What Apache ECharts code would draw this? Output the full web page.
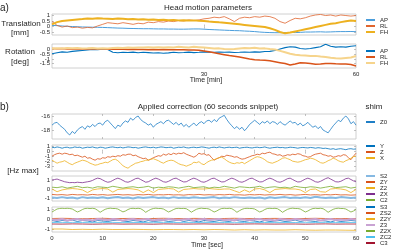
<!DOCTYPE html>
<html>
<head>
<meta charset="utf-8">
<script src="https://cdn.jsdelivr.net/npm/echarts@6/dist/echarts.min.js"></script>
<style>
  html, body { margin: 0; padding: 0; background: #fff; }
  #chart { width: 400px; height: 249px; }
</style>
</head>
<body>
<div id="chart"></div>
<script>
// a) head motion, one value per minute (0..60 min)
const transAP = [0.10,0.08,0.05,0.02,0.0,-0.02,-0.04,-0.05,-0.06,-0.07,-0.08,-0.1,-0.12,-0.14,-0.15,-0.17,-0.18,-0.19,-0.2,-0.2,-0.21,-0.22,-0.22,-0.23,-0.23,-0.24,-0.24,-0.23,-0.22,-0.22,-0.24,-0.27,-0.29,-0.31,-0.33,-0.35,-0.37,-0.38,-0.41,-0.43,-0.46,-0.5,-0.53,-0.55,-0.56,-0.56,-0.55,-0.54,-0.55,-0.53,-0.5,-0.5,-0.49,-0.48,-0.5,-0.49,-0.47,-0.46,-0.46,-0.45,-0.47];
const transRL = [0.45,0.1,-0.05,0.05,-0.1,-0.05,-0.15,-0.08,-0.12,0.05,0.2,0.35,0.3,0.25,0.35,0.28,0.2,0.3,0.25,0.4,0.35,0.45,0.4,0.5,0.45,0.55,0.5,0.6,0.55,0.6,0.7,0.75,0.85,0.8,0.9,0.7,0.45,0.75,0.85,0.8,0.9,0.85,0.95,0.9,0.75,0.45,0.3,0.55,0.75,0.7,0.8,0.95,1.05,1.1,1.0,1.05,0.95,1.05,1.0,0.95,1.0];
const transFH = [0.2,0.4,0.5,0.55,0.6,0.65,0.68,0.72,0.7,0.75,0.72,0.7,0.68,0.72,0.7,0.66,0.68,0.65,0.66,0.62,0.64,0.6,0.62,0.58,0.6,0.56,0.58,0.55,0.56,0.52,0.5,0.45,0.42,0.38,0.35,0.3,0.25,0.2,0.15,0.1,0.05,0.0,-0.05,-0.15,-0.3,-0.5,-0.62,-0.55,-0.45,-0.35,-0.25,-0.15,-0.05,0.05,0.15,0.25,0.3,0.4,0.48,0.55,0.5];
const rotAP = [-0.45,-0.35,-0.25,-0.3,-0.2,-0.15,-0.1,-0.05,0.0,-0.02,0.02,0.0,-0.3,-0.35,-0.3,-0.32,-0.28,-0.35,-0.3,-0.33,-0.38,-0.35,-0.4,-0.36,-0.3,-0.35,-0.32,-0.28,-0.33,-0.3,-0.25,-0.28,-0.3,-0.26,-0.3,-0.28,-0.32,-0.3,-0.27,-0.3,-0.25,-0.28,-0.22,-0.2,-0.1,0.05,0.2,0.3,0.25,0.1,0.05,0.1,0.2,0.3,0.55,0.35,0.25,0.3,0.25,0.35,0.4];
const rotRL = [0.1,0.08,0.1,0.06,0.08,0.05,0.07,0.05,0.06,0.04,0.05,0.03,0.04,0.02,0.03,0.0,0.02,0.0,0.01,-0.02,0.0,-0.02,-0.01,-0.03,-0.02,-0.04,-0.03,-0.05,-0.05,-0.08,-0.15,-0.25,-0.35,-0.45,-0.55,-0.65,-0.72,-0.8,-0.9,-1.0,-1.08,-1.12,-1.15,-1.2,-1.3,-1.4,-1.5,-1.65,-1.55,-1.42,-1.45,-1.5,-1.58,-1.55,-1.5,-1.48,-1.52,-1.55,-1.55,-1.6,-1.75];
const rotFH = [0.1,0.12,0.1,0.15,0.12,0.15,0.1,0.12,0.15,0.1,0.12,0.1,0.15,0.18,0.15,0.2,0.18,0.22,0.2,0.25,0.22,0.25,0.2,0.25,0.22,0.28,0.25,0.22,0.28,0.25,0.2,0.15,0.1,0.12,0.05,0.02,0.05,0.1,0.15,0.12,0.18,0.1,0.12,0.05,0.0,-0.15,-0.3,-0.45,-0.55,-0.62,-0.65,-0.7,-0.68,-0.75,-0.8,-0.88,-0.92,-0.95,-0.9,-0.85,-0.7];

// b) applied shim correction over 60 s
const shimZ0 = [-17.3,-17.0,-16.9,-17.3,-17.6,-17.9,-18.4,-18.7,-18.2,-18.5,-18.0,-17.7,-17.5,-17.9,-17.4,-17.6,-17.2,-17.5,-17.1,-17.0,-17.3,-16.8,-16.6,-17.0,-17.4,-17.8,-17.3,-17.5,-17.0,-16.7,-16.9,-16.3,-16.6,-16.2,-16.0,-16.5,-16.8,-17.0,-17.3,-17.1,-17.6,-17.2,-17.0,-16.8,-17.1,-16.7,-16.6,-16.9,-17.2,-16.9,-17.3,-17.0,-17.5,-17.2,-17.6,-17.3,-17.0,-17.4,-17.0,-16.8,-17.1,-16.7,-16.6,-16.9,-16.5,-16.8,-16.3,-16.1,-15.9,-16.5,-17.0,-17.4,-17.8,-17.5,-17.9,-17.6,-18.1,-17.7,-17.2,-16.9,-16.6,-16.9,-17.2,-16.8,-17.0,-16.7,-17.1,-16.8,-16.9,-17.2,-16.8,-17.1,-17.3,-17.0,-16.7,-17.0,-16.9,-17.3,-17.0,-17.4,-17.2,-16.9,-17.3,-17.6,-17.4,-17.8,-17.5,-18.0,-18.2,-18.4,-17.9,-17.4,-17.0,-16.6,-16.8,-16.3,-16.0,-16.4,-17.1,-16.8,-17.3];
const shimY = [0.9,0.8,0.95,0.85,0.7,0.85,0.9,0.75,0.8,0.95,0.85,0.9,0.7,0.8,0.9,0.85,0.95,0.8,0.75,0.9,0.85,0.7,0.8,0.9,0.95,0.85,0.8,0.9,0.75,0.85,0.95,0.9,0.8,0.85,0.7,0.8,0.9,0.95,0.85,0.8,0.9,0.75,0.85,0.95,0.9,0.8,0.85,0.9,0.7,0.8,0.9,0.85,0.95,0.8,0.75,0.85,0.9,0.8,0.85,0.95,0.9,0.8,0.7,0.85,0.9,0.8,0.95,0.85,0.75,0.85,0.9,0.8,0.85,0.9,0.7,0.8,0.85,0.9,0.8,0.75,0.85,0.9,0.8,0.85,0.95,0.8,0.7,0.8,0.85,0.9,0.8,0.85,0.75,0.8,0.9,0.85,0.8,0.7,0.8,0.85,0.8,0.75,0.85,0.8,0.7,0.8,0.75,0.65,0.7,0.6,0.5,0.6,0.45,0.55,0.6,0.5,0.4,0.55,0.6,0.5,0.55];
const shimZ = [-0.9,-0.6,-0.4,-0.3,-0.5,-0.3,-0.4,-0.6,-0.5,-0.8,-0.7,-0.9,-1.1,-0.9,-1.3,-1.2,-1.5,-1.7,-1.4,-1.5,-1.2,-1.3,-1.0,-1.1,-0.9,-1.0,-0.8,-0.9,-0.6,-0.7,-0.5,-0.5,-0.8,-0.7,-1.0,-1.2,-1.4,-1.3,-1.7,-1.5,-1.2,-1.0,-0.8,-0.9,-0.5,-0.7,-0.4,-0.6,-0.3,-0.5,-0.3,-0.4,-0.2,-0.5,-0.7,-0.9,-1.1,-0.8,-0.3,-0.5,-0.4,-0.7,-0.6,-1.2,-1.7,-1.4,-1.2,-0.9,-1.0,-0.7,-0.8,-0.9,-1.1,-1.0,-1.3,-1.5,-1.4,-1.2,-1.0,-0.8,-0.7,-0.5,-0.6,-0.3,-0.4,-0.2,-0.1,-0.4,-0.5,-0.7,-0.6,-0.9,-0.8,-0.6,-0.7,-0.5,-0.6,-0.4,-0.5,-0.8,-0.9,-1.1,-1.0,-0.7,-0.5,-0.4,-0.3,-0.6,-0.7,-0.9,-0.8,-1.1,-1.0,-0.8,-0.9,-0.6,-0.7,-1.2,-1.6,-0.9,-0.3];
const shimX = [-1.7,-2.0,-2.3,-2.1,-2.0,-1.8,-2.1,-2.4,-2.6,-2.3,-2.1,-1.9,-1.7,-1.8,-2.0,-2.3,-2.5,-2.7,-2.6,-2.4,-2.3,-2.1,-2.2,-1.9,-1.6,-1.5,-1.8,-2.3,-2.8,-3.1,-3.3,-2.9,-2.6,-2.3,-2.2,-2.0,-1.9,-1.7,-1.7,-1.5,-1.4,-1.6,-1.8,-2.1,-2.3,-2.0,-1.8,-1.7,-1.8,-2.1,-2.4,-2.6,-2.7,-2.9,-2.7,-2.5,-2.1,-2.2,-2.0,-2.4,-2.6,-2.2,-1.9,-1.7,-1.6,-1.4,-1.2,-1.1,-1.4,-1.8,-2.1,-2.3,-2.4,-2.2,-2.3,-2.1,-2.4,-2.1,-1.8,-1.5,-1.2,-1.0,-1.1,-1.3,-1.6,-2.0,-2.2,-2.3,-2.1,-1.9,-1.6,-1.3,-1.2,-1.4,-1.6,-1.9,-2.0,-2.1,-2.0,-1.8,-1.6,-1.5,-1.3,-1.4,-1.6,-1.9,-2.2,-2.3,-2.1,-1.8,-1.6,-1.3,-1.5,-1.8,-2.0,-2.1,-1.8,-1.6,-1.3,-1.0,-0.9];
const shimS2 = [-0.95,-1.0,-0.9,-1.0,-0.95,-1.05,-0.9,-1.0,-0.95,-1.0,-0.92,-1.02,-0.95,-0.88,-1.0,-0.95,-1.05,-0.92,-1.0,-0.95,-0.9,-1.0,-0.95,-1.03,-0.9,-1.0,-0.95,-1.0,-0.92,-0.98,-1.0,-0.95,-0.9,-1.02,-0.95,-1.0,-0.9,-0.98,-1.0,-0.93,-1.0,-0.95,-1.05,-0.92,-1.0,-0.95,-0.9,-1.0,-0.95,-1.0,-0.92,-1.0,-0.85,-0.95,-1.0,-0.93,-1.0,-0.9,-0.95,-1.0,-0.95];
const shimZY = [-0.6,-0.65,-0.62,-0.68,-0.6,-0.65,-0.63,-0.67,-0.6,-0.66,-0.62,-0.68,-0.64,-0.6,-0.66,-0.63,-0.68,-0.62,-0.65,-0.6,-0.67,-0.63,-0.65,-0.61,-0.66,-0.64,-0.68,-0.62,-0.65,-0.6,-0.66,-0.63,-0.67,-0.62,-0.65,-0.6,-0.66,-0.64,-0.68,-0.62,-0.65,-0.61,-0.67,-0.63,-0.65,-0.6,-0.66,-0.62,-0.68,-0.64,-0.6,-0.66,-0.63,-0.67,-0.62,-0.65,-0.6,-0.66,-0.64,-0.68,-0.65];
const shimZ2 = [0.0,-0.3,-0.1,0.0,0.05,0.0,-0.1,-0.4,-0.1,0.0,0.05,0.0,-0.35,-0.05,0.0,0.05,0.0,-0.1,-0.4,-0.1,-0.4,-0.05,0.0,0.05,0.0,-0.35,-0.05,0.0,0.05,0.0,0.0,0.05,0.0,-0.05,0.0,0.0,-0.2,-0.4,-0.1,-0.35,0.0,0.05,-0.1,-0.4,-0.05,0.0,0.05,0.0,0.0,-0.1,-0.4,-0.05,0.0,-0.3,-0.35,0.0,0.05,0.0,-0.1,-0.4,-0.05];
const shimZX = [1.0,1.05,1.1,1.0,0.9,0.8,0.75,0.7,0.72,0.7,0.75,0.72,0.7,0.75,0.8,0.85,0.95,1.1,1.2,1.15,1.0,0.85,0.75,0.8,0.95,1.1,1.2,1.1,0.95,0.8,0.75,0.85,1.0,1.15,1.2,1.05,0.9,0.75,0.8,0.95,1.1,1.2,1.1,0.95,0.8,0.75,0.85,1.0,1.15,1.2,1.05,0.9,0.78,0.8,0.95,1.1,1.2,1.1,0.95,0.8,0.75,0.85,1.0,1.15,1.2,1.05,0.9,0.78,0.8,0.95,1.1,1.2,1.1,0.95,0.8,0.75,0.85,1.0,1.15,1.2,1.05,0.9,0.78,0.8,0.95,1.1,1.2,1.1,0.95,0.8,0.75,0.85,1.0,1.15,1.2,1.05,0.9,0.78,0.8,0.95,1.1,1.2,1.1,0.95,0.8,0.75,0.85,1.0,1.15,1.25,1.1,0.95,0.8,0.78,0.85,1.0,1.15,1.2,1.05,0.9,0.8];
const shimC2 = [0.2,0.15,0.25,0.1,0.2,0.3,0.15,0.2,0.1,0.25,0.2,0.15,0.3,0.2,0.1,0.2,0.25,0.15,0.2,0.3,0.1,0.2,0.15,0.25,0.2,0.1,0.2,0.3,0.15,0.2,0.25,0.1,0.2,0.15,0.3,0.2,0.1,0.25,0.2,0.15,0.2,0.3,0.1,0.2,0.25,0.15,0.2,0.1,0.3,0.2,0.15,0.25,0.2,0.1,0.2,0.3,0.15,0.2,0.25,0.1,0.2];
const shimS3 = [-0.1,-0.2,-0.1,-0.15,-0.05,-0.2,-0.1,-0.15,-0.25,-0.1,-0.15,-0.2,-0.1,-0.05,-0.15,-0.2,-0.1,-0.15,-0.25,-0.1,-0.2,-0.15,-0.1,-0.2,-0.15,-0.05,-0.2,-0.1,-0.15,-0.25,-0.1,-0.15,-0.2,-0.1,-0.15,-0.2,-0.05,-0.15,-0.2,-0.1,-0.15,-0.25,-0.1,-0.2,-0.15,-0.1,-0.2,-0.15,-0.05,-0.2,-0.1,-0.15,-0.2,-0.1,-0.15,-0.25,-0.1,-0.2,-0.15,-0.1,-0.15];
const shimZS2 = [0.1,0.12,0.1,0.08,0.1,0.12,0.09,0.1,0.11,0.08,0.1,0.12,0.1,0.09,0.11,0.1,0.08,0.1,0.12,0.1,0.09,0.1,0.11,0.1,0.08,0.1,0.12,0.1,0.09,0.1,0.1];
const shimZ2Y = [-0.95,-0.95,-1.0,-0.98,-1.0,-0.97,-1.0,-1.0,-0.98,-1.0,-1.02,-1.0,-1.0,-1.02,-1.0,-1.03,-1.0,-1.02,-1.05,-1.02,-1.05,-1.03,-1.05,-1.05,-1.02,-1.05,-1.07,-1.05,-1.05,-1.07,-1.08];
const shimZ3 = [0.0,-0.05,0.05,-0.1,0.0,0.05,-0.05,0.0,-0.1,0.05,0.0,-0.05,0.05,0.0,-0.1,0.0,0.05,-0.05,0.0,0.05,-0.1,0.0,-0.05,0.05,0.0,-0.05,0.0,0.05,-0.1,0.0,0.05,-0.05,0.0,0.05,-0.05,0.0,-0.1,0.05,0.0,-0.05,0.0,0.05,-0.05,0.0,-0.1,0.05,0.0,-0.05,0.05,0.0,-0.05,0.0,0.05,-0.1,0.0,0.05,-0.05,0.0,-0.05,0.05,0.0];
const shimZ2X = [0.75,0.9,1.05,1.1,1.12,1.1,1.12,1.1,1.05,0.9,0.75,0.85,1.0,1.1,1.12,1.1,1.12,1.08,0.92,0.72,0.88,1.02,1.1,1.13,1.1,1.1,1.05,0.9,0.76,0.85,1.0,1.1,1.12,1.09,1.12,1.08,0.93,0.72,0.88,1.02,1.1,1.13,1.1,1.1,1.05,0.9,0.75,0.86,1.0,1.1,1.12,1.1,1.11,1.08,0.92,0.73,0.88,1.02,1.1,1.13,1.1,1.1,1.05,0.9,0.75,0.85,1.0,1.1,1.12,1.1,1.12,1.08,0.92,0.72,0.88,1.02,1.1,1.12,1.1,1.1,1.05,0.9,0.75,0.85,1.0,1.1,1.12,1.1,1.12,1.08,0.92,0.72,0.88,1.02,1.1,1.13,1.1,1.1,1.05,0.9,0.75,0.85,1.0,1.1,1.12,1.1,1.12,1.08,0.92,0.72,0.88,1.02,1.1,1.13,1.1,1.1,1.05,0.9,0.75,0.85,1.0];
const shimZC2 = [-0.3,-0.31,-0.29,-0.3,-0.32,-0.3,-0.29,-0.31,-0.3,-0.3,-0.32,-0.29,-0.3,-0.31,-0.3,-0.29,-0.31,-0.3,-0.32,-0.3,-0.29,-0.3,-0.31,-0.3,-0.3,-0.32,-0.3,-0.29,-0.31,-0.3,-0.3];
const shimC3 = [-0.45,-0.46,-0.44,-0.45,-0.47,-0.45,-0.44,-0.46,-0.45,-0.45,-0.47,-0.44,-0.45,-0.46,-0.45,-0.44,-0.46,-0.45,-0.47,-0.45,-0.44,-0.45,-0.46,-0.45,-0.45,-0.47,-0.45,-0.44,-0.46,-0.45,-0.45];

const secTicks = [10, 20, 30, 40, 50];
const secLabels = [0, 10, 20, 30, 40, 50, 60];

// spread a sampled run evenly over 0..60 (min or sec)
function pts(vals) {
  const n = vals.length;
  return vals.map((v, i) => [i * 60 / (n - 1), v]);
}

const FONT = 'Liberation Sans';
const TXT = '#262626';

const panels = [
  { top: 14, height: 21, ymin: -0.77, ymax: 1.14, yticks: [1, 0.5, 0, -0.5], xticks: [30], xlabels: null, legendTop: 17,
    lines: [['AP', transAP, '#4a9ddb', 1], ['RL', transRL, '#e0652f', 0.8], ['FH', transFH, '#edb120', 2]] },
  { top: 44, height: 24, ymin: -1.97, ymax: 0.585, yticks: [0, -0.5, -1, -1.5], xticks: [30], xlabels: [30, 60], legendTop: 48,
    lines: [['AP ', rotAP, '#0072bd', 1.1], ['RL ', rotRL, '#d95319', 1.5], ['FH ', rotFH, '#f6d48c', 2]] },
  { top: 114, height: 25, ymin: -19.28, ymax: -15.71, yticks: [-16, -18], xticks: secTicks, xlabels: null, legendTop: 119,
    lines: [['Z0', shimZ0, '#1f7fc6', 0.8]] },
  { top: 145, height: 26, ymin: -3.86, ymax: 1.34, yticks: [1, 0, -1, -2, -3], xticks: secTicks, xlabels: null, legendTop: 143,
    lines: [['Y', shimY, '#0072bd', 0.8], ['Z', shimZ, '#d95319', 0.8], ['X', shimX, '#edb120', 0.8]] },
  { top: 176, height: 25, ymin: -1.33, ymax: 1.44, yticks: [1, 0, -1], xticks: secTicks, xlabels: null, legendTop: 173,
    lines: [['S2', shimS2, '#86b9e2', 2], ['ZY', shimZY, '#d95319', 0.8], ['Z2', shimZ2, '#edb120', 0.8], ['ZX', shimZX, '#7e2f8e', 0.8], ['C2', shimC2, '#77ac30', 0.8]] },
  { top: 207, height: 25, ymin: -1.25, ymax: 1.25, yticks: [1, 0, -1], xticks: secTicks, xlabels: secLabels, legendTop: 204,
    lines: [['S3', shimS3, '#0072bd', 0.8], ['ZS2', shimZS2, '#d95319', 0.8], ['Z2Y', shimZ2Y, '#edb120', 0.8], ['Z3', shimZ3, '#c9a3d3', 2], ['Z2X', shimZ2X, '#77ac30', 0.8], ['ZC2', shimZC2, '#4dbeee', 0.8], ['C3', shimC3, '#a2142f', 0.8]] }
];

const grid = [], xAxis = [], yAxis = [], series = [], legend = [];
const tickStyle = { color: '#9a9a9a', width: 0.6 };
const labelStyle = { show: true, interval: 0, fontSize: 6, margin: 2, color: TXT, fontFamily: FONT, showMinLabel: true, showMaxLabel: true };

panels.forEach((p, i) => {
  grid.push({ left: 52, width: 304, top: p.top, height: p.height, show: true, borderColor: '#c4c4c4', borderWidth: 0.8 });
  ['bottom', 'top'].forEach((pos) => {
    xAxis.push({
      type: 'value', gridIndex: i, min: 0, max: 60, position: pos,
      axisLine: { show: false }, splitLine: { show: false },
      axisTick: { show: true, inside: true, length: 2, lineStyle: tickStyle, customValues: p.xticks },
      axisLabel: pos === 'bottom' && p.xlabels
        ? Object.assign({}, labelStyle, { customValues: p.xlabels, margin: 3 })
        : { show: false }
    });
  });
  // tightly packed tick labels: split over two stacked left axes so none gets dropped
  const yEven = p.yticks.filter((_, k) => k % 2 === 0);
  const yOdd = p.yticks.filter((_, k) => k % 2 === 1);
  const yBase = yAxis.length;
  [['left', yEven, true], ['left', yOdd, false], ['right', [], true]].forEach(([pos, labs, ticks]) => {
    yAxis.push({
      type: 'value', gridIndex: i, min: p.ymin, max: p.ymax, position: pos,
      axisLine: { show: false }, splitLine: { show: false },
      axisTick: { show: ticks, inside: true, length: 2, lineStyle: tickStyle, customValues: p.yticks },
      axisLabel: labs.length ? Object.assign({}, labelStyle, { customValues: labs }) : { show: false }
    });
  });
  p.lines.forEach(([name, vals, color, w]) => {
    series.push({
      type: 'line', name: name, xAxisIndex: 2 * i, yAxisIndex: yBase,
      data: pts(vals), symbol: 'none', silent: true,
      itemStyle: { color: color }, lineStyle: { color: color, width: w }
    });
  });
  legend.push({
    left: 365, top: p.legendTop, orient: 'vertical', padding: 0, itemGap: 0,
    itemWidth: 9, itemHeight: 6, selectedMode: false,
    itemStyle: { opacity: 0 },
    textStyle: { fontSize: 6, lineHeight: 6, color: TXT, fontFamily: FONT },
    data: p.lines.map((l) => l[0])
  });
});

function label(text, x, y, size, align) {
  return {
    type: 'text', x: x, y: y, silent: true,
    style: { text: text, fill: TXT, font: size + 'px "' + FONT + '"', textAlign: align || 'center', textVerticalAlign: 'middle' }
  };
}

const chart = echarts.init(document.getElementById('chart'));
chart.setOption({
  animation: false,
  textStyle: { fontFamily: FONT },
  grid: grid,
  xAxis: xAxis,
  yAxis: yAxis,
  legend: legend,
  series: series,
  graphic: [
    label('a)', 0, 8, 10, 'left'),
    label('Head motion parameters', 208, 8, 8),
    label('Translation', 21, 24, 8),
    label('[mm]', 20, 33, 8),
    label('Rotation', 20, 52, 8),
    label('[deg]', 20, 62, 8),
    label('Time [min]', 206, 80, 7),
    label('b)', 0, 107, 10, 'left'),
    label('Applied correction (60 seconds snippet)', 208, 107, 8),
    label('shim', 374, 107, 8),
    label('[Hz max]', 23, 171, 8),
    label('Time [sec]', 207, 245, 7)
  ]
});
</script>
</body>
</html>
